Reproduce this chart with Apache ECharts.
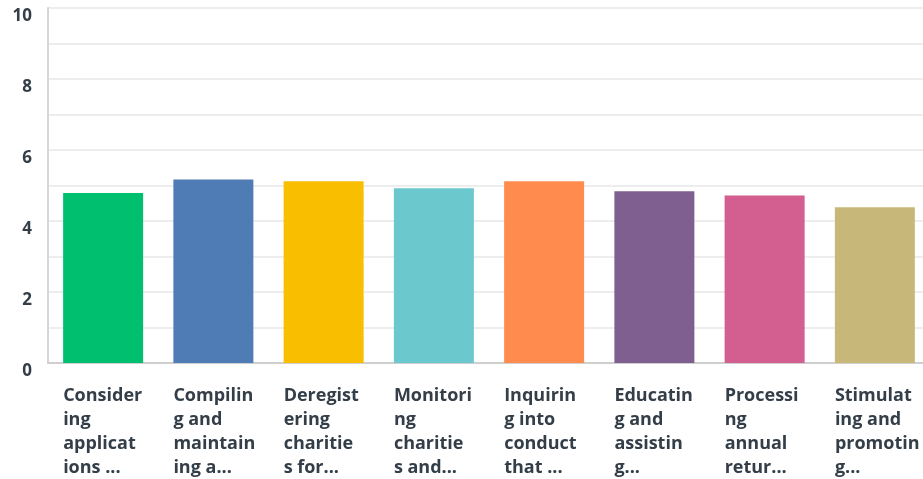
<!DOCTYPE html>
<html>
<head>
<meta charset="utf-8">
<script src="https://cdn.jsdelivr.net/npm/echarts@6/dist/echarts.min.js"></script>
<style>
  html, body { margin: 0; padding: 0; background: #fff; }
  #chart { width: 923px; height: 479px; }
</style>
</head>
<body>
<div id="chart"></div>
<script>
// axis labels as they show under the bars (wrapped + truncated)
var categories = [
  'Consider\ning\napplicat\nions ...',
  'Compilin\ng and\nmaintain\ning a...',
  'Deregist\nering\ncharitie\ns for...',
  'Monitori\nng\ncharitie\ns and...',
  'Inquirin\ng into\nconduct\nthat ...',
  'Educatin\ng and\nassistin\ng...',
  'Processi\nng\nannual\nretur...',
  'Stimulat\ning and\npromotin\ng...'
];
var values = [4.79, 5.17, 5.12, 4.92, 5.12, 4.84, 4.72, 4.39];
var colors = ['#00bf6f', '#507cb6', '#f9be00', '#6bc8cd', '#ff8b4f', '#7f5f90', '#d25f90', '#c7b879'];

var chart = echarts.init(document.getElementById('chart'));

var option = {
  backgroundColor: '#ffffff',
  animation: false,
  grid: {
    left: 48,
    top: 8,
    width: 882,
    bottom: 116,
    outerBoundsMode: 'none'
  },
  xAxis: {
    type: 'category',
    data: categories,
    axisLine: { lineStyle: { color: '#cfcfcf', width: 2 } },
    axisTick: { show: false },
    axisLabel: {
      interval: 0,
      margin: 21,
      formatter: function (v) {
        return '{a|' + v + '}';
      },
      rich: {
        a: {
          width: 80,
          align: 'left',
          fontFamily: 'Open Sans',
          fontWeight: 'bold',
          fontSize: 18,
          lineHeight: 24,
          color: '#333e48'
        }
      }
    }
  },
  yAxis: {
    type: 'value',
    min: 0,
    max: 10,
    interval: 1,
    axisLine: { show: true, lineStyle: { color: '#d6d6d6', width: 2 } },
    axisTick: { show: false },
    splitLine: { lineStyle: { color: '#ededed', width: 2 } },
    axisLabel: {
      margin: 16,
      verticalAlign: 'top',
      fontFamily: 'Open Sans',
      fontWeight: 'bold',
      fontSize: 17,
      color: '#333e48',
      formatter: function (v) {
        return v % 2 === 0 ? v : '';
      }
    }
  },
  series: [{
    type: 'bar',
    barWidth: 80,
    data: values.map(function (v, i) {
      return { value: v, itemStyle: { color: colors[i] } };
    })
  }]
};

chart.setOption(option);
</script>
</body>
</html>
